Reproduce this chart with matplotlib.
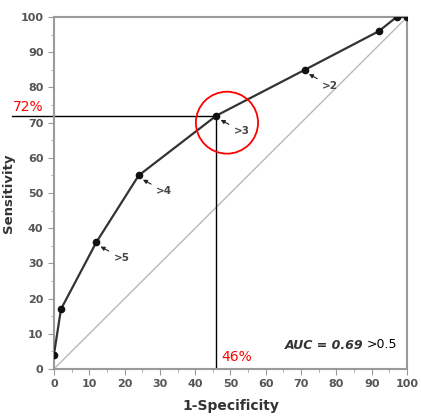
import matplotlib
matplotlib.use("Agg")
import matplotlib.pyplot as plt
from matplotlib.patches import Circle

# Datos de la curva ROC
fpr = [0, 2, 12, 24, 46, 71, 92, 97, 100]
tpr = [4, 17, 36, 55, 72, 85, 96, 100, 100]
cut_labels = ['>5', '>4', '>3', '>2']
cut_x = [12, 24, 46, 71]
cut_y = [36, 55, 72, 85]
xticks = [0, 10, 20, 30, 40, 50, 60, 70, 80, 90, 100]
yticks = [0, 10, 20, 30, 40, 50, 60, 70, 80, 90, 100]
best_x, best_y = 46, 72
auc = 0.69

fig = plt.figure(figsize=(4.21, 4.17), dpi=100)
ax = fig.add_axes([0.128, 0.115, 0.839, 0.844])

gray = "#9a9a9a"
label_gray = "#555555"

ax.plot([0, 100], [0, 100], color="#b8b8b8", linewidth=1.0, zorder=1)
ax.plot(fpr, tpr, color="#333333", linewidth=1.6, marker='o', markersize=4.5,
        markerfacecolor="#111111", markeredgecolor="#111111", zorder=3)

# Etiquetas de puntos de corte con flechas
for lab, x, y in zip(cut_labels, cut_x, cut_y):
    ax.annotate(lab, xy=(x + 1.2, y - 1.2), xytext=(x + 5, y - 4.5),
                fontsize=7.5, fontweight='bold', color="#444444",
                ha='left', va='center',
                arrowprops=dict(arrowstyle='-|>', color="#222222", lw=0.8,
                                mutation_scale=6, shrinkA=2, shrinkB=0))

# Lineas de referencia del punto optimo
ax.plot([-12, best_x], [best_y, best_y], color='black', linewidth=1.0,
        clip_on=False, zorder=2)
ax.plot([best_x, best_x], [0, best_y], color='black', linewidth=1.0, zorder=2)
ax.add_patch(Circle((49, 70), 8.8, fill=False, edgecolor='red', linewidth=1.3,
                    zorder=4))
ax.text(-11.5, best_y + 0.5, f"{best_y}%", color='red', fontsize=10,
        ha='left', va='bottom', clip_on=False)
ax.text(best_x + 1.5, 1.5, f"{best_x}%", color='red', fontsize=10,
        ha='left', va='bottom')

ax.text(65.5, 6.7, f"AUC = {auc}", fontsize=9, fontweight='bold',
        fontstyle='italic', color="#333333", ha='left', va='center')
ax.text(88.5, 6.9, ">0.5", fontsize=9, color='black', ha='left', va='center')

ax.set_xlim(0, 100)
ax.set_ylim(0, 100)
ax.set_xticks(xticks)
ax.set_yticks(yticks)
ax.set_xticks(range(5, 100, 10), minor=True)
ax.set_yticks(range(5, 100, 10), minor=True)
ax.tick_params(which='both', direction='out', color=gray, labelsize=8,
               labelcolor=label_gray)
ax.tick_params(which='major', length=4)
ax.tick_params(which='minor', length=2.5)
for t in ax.get_xticklabels() + ax.get_yticklabels():
    t.set_fontweight('bold')
for s in ax.spines.values():
    s.set_color(gray)
    s.set_linewidth(1.5)

ax.set_xlabel("1-Specificity", fontsize=10, fontweight='bold', color="#333333",
              labelpad=7)
ax.set_ylabel("Sensitivity", fontsize=9.5, fontweight='bold', color="#333333",
              labelpad=4)

plt.savefig("out.png", dpi=100)
plt.close()
